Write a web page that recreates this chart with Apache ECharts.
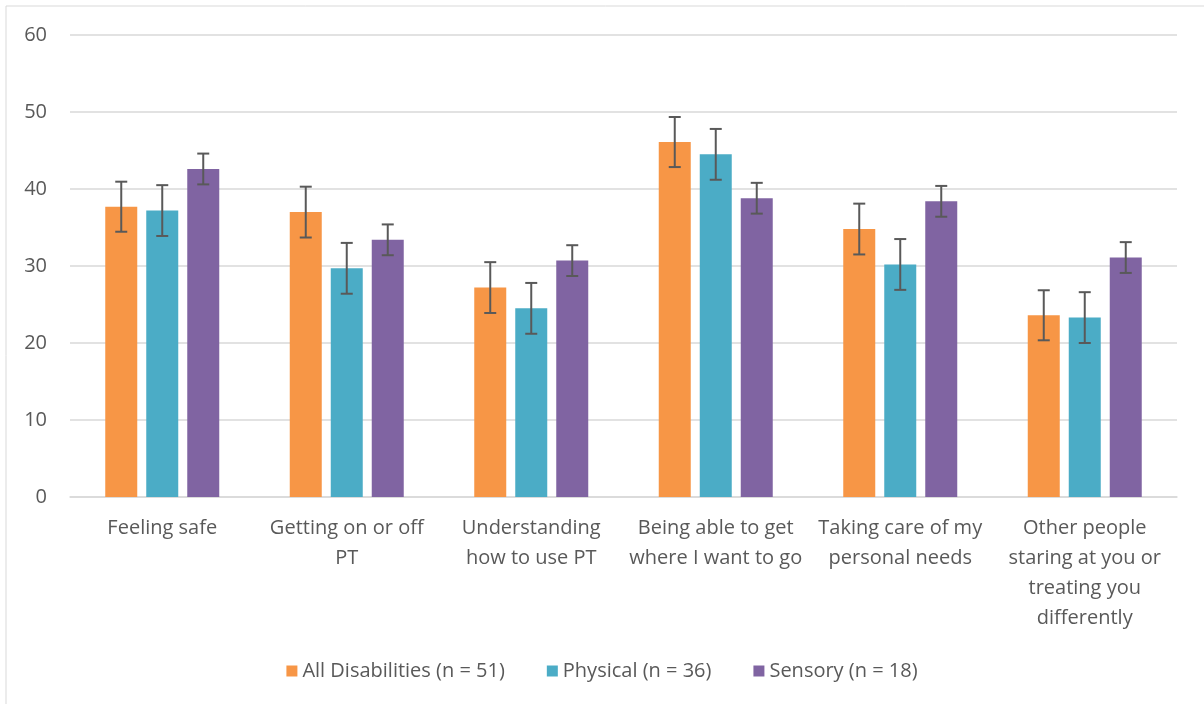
<!DOCTYPE html>
<html><head><meta charset="utf-8">
<script src="https://cdn.jsdelivr.net/npm/echarts@6/dist/echarts.min.js"></script>
<style>html,body{margin:0;padding:0;background:#fff}#c{width:1204px;height:704px}</style>
</head><body><div id="c"></div>
<script>
const categories = ["Feeling safe", "Getting on or off\nPT", "Understanding\nhow to use PT", "Being able to get\nwhere I want to go", "Taking care of my\npersonal needs", "Other people\nstaring at you or\ntreating you\ndifferently"];
const seriesNames = ["All Disabilities (n = 51)", "Physical (n = 36)", "Sensory (n = 18)"];
const allValues = [37.7, 37.0, 27.2, 46.1, 34.8, 23.6];
const physicalValues = [37.2, 29.7, 24.5, 44.5, 30.2, 23.3];
const sensoryValues = [42.6, 33.4, 30.7, 38.8, 38.4, 31.1];
const allErr = [3.25, 3.3, 3.3, 3.25, 3.3, 3.25];
const physicalErr = [3.3, 3.3, 3.3, 3.3, 3.3, 3.3];
const sensoryErr = [2.0, 2.0, 2.0, 2.0, 2.0, 2.0];
const yTicks = [0, 10, 20, 30, 40, 50, 60];

const colors = ['#F79646', '#4BACC6', '#8064A2'];
const values = [allValues, physicalValues, sensoryValues];
const errs = [allErr, physicalErr, sensoryErr];
const BAR_W = 32, GAP = 9;
const offsets = [-(BAR_W + GAP), 0, BAR_W + GAP];

const chart = echarts.init(document.getElementById('c'), null, {renderer: 'canvas'});
const series = [];
values.forEach((v, i) => {
  series.push({
    name: seriesNames[i], type: 'bar', data: v, barWidth: BAR_W, barGap: (GAP / BAR_W * 100) + '%',
    itemStyle: {color: colors[i]}, z: 2
  });
});
values.forEach((v, i) => {
  series.push({
    type: 'custom', silent: true, z: 5,
    data: v.map((val, k) => [k, val - errs[i][k], val + errs[i][k]]),
    encode: {x: 0, y: [1, 2]},
    renderItem: function (params, api) {
      const lo = api.coord([api.value(0), api.value(1)]);
      const hi = api.coord([api.value(0), api.value(2)]);
      const x = lo[0] + offsets[i];
      const cap = 6;
      const st = {stroke: '#595959', lineWidth: 2};
      return {type: 'group', children: [
        {type: 'line', shape: {x1: x, y1: hi[1], x2: x, y2: lo[1]}, style: st},
        {type: 'line', shape: {x1: x - cap, y1: hi[1], x2: x + cap, y2: hi[1]}, style: st},
        {type: 'line', shape: {x1: x - cap, y1: lo[1], x2: x + cap, y2: lo[1]}, style: st}
      ]};
    }
  });
});

chart.setOption({
  animation: false,
  textStyle: {fontFamily: 'Open Sans'},
  graphic: [{type: 'rect', shape: {x: 6, y: 6, width: 1210, height: 710}, style: {fill: 'none', stroke: '#d9d9d9', lineWidth: 1}, silent: true}],
  grid: {left: 70, right: 27, top: 35, bottom: 207, containLabel: false},
  legend: {
    bottom: 18, left: 'center', data: seriesNames, icon: 'rect', itemWidth: 11, itemHeight: 11, itemGap: 42,
    textStyle: {color: '#595959', fontSize: 20, fontFamily: 'Open Sans'}
  },
  xAxis: {
    type: 'category', data: categories,
    axisLine: {lineStyle: {color: '#d9d9d9', width: 1.5}}, axisTick: {show: false},
    axisLabel: {color: '#595959', fontSize: 20, lineHeight: 30, margin: 16, interval: 0, fontFamily: 'Open Sans'}
  },
  yAxis: {
    type: 'value', min: yTicks[0], max: yTicks[yTicks.length - 1], interval: 10,
    axisLine: {show: false}, axisTick: {show: false},
    splitLine: {lineStyle: {color: '#d9d9d9', width: 1.5}},
    axisLabel: {color: '#595959', fontSize: 20, margin: 23, fontFamily: 'Open Sans'}
  },
  series: series
});
</script></body></html>
